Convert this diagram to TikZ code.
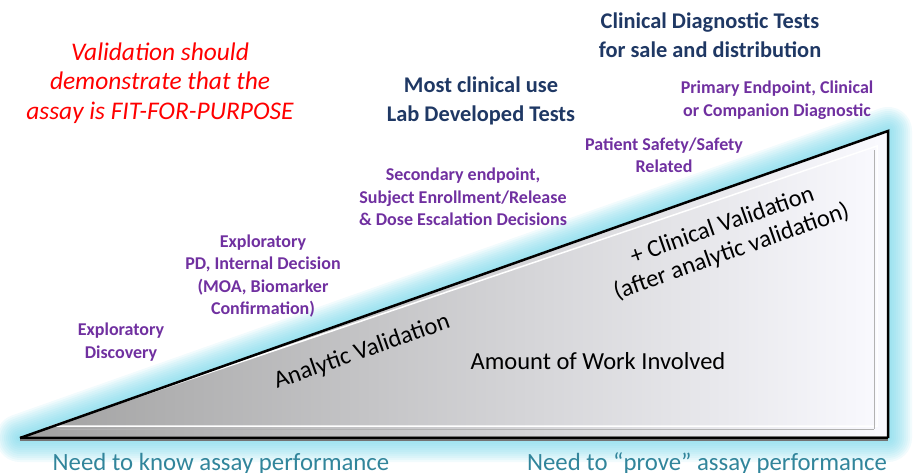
\documentclass[tikz,border=0pt]{standalone}
\usepackage{fontspec}
\setmainfont{Carlito}
\usetikzlibrary{positioning}
\definecolor{navytext}{RGB}{31,56,100}
\definecolor{purpletext}{RGB}{112,48,160}
\definecolor{tealtext}{RGB}{49,133,155}
\definecolor{glowcyan}{RGB}{110,212,232}
\tikzset{every node/.style={align=center, inner sep=0pt}, % Centered multi-line text
        heading/.style={ % Navy headings
            font=\bfseries\fontsize{22.4}{29}\selectfont,
            text=navytext},
        usecase/.style={ % Purple labels above the ramp
            font=\bfseries\fontsize{18}{22.5}\selectfont,
            text=purpletext},
        onramp/.style={ % Black text on the ramp
            font=\fontsize{24.5}{28}\selectfont,
            text=black},
        need/.style={ % Teal captions at the bottom
            font=\fontsize{24.8}{28}\selectfont,
            text=tealtext}
        }

\begin{document}
\begin{tikzpicture}[x=1pt,y=-1pt]
    \useasboundingbox (0,0) rectangle (914,472);
    \coordinate (left) at (20,438);
    \coordinate (right) at (888,438);
    \coordinate (top) at (888,131);

    % cyan glow round the ramp
    \foreach \w in {48,44,...,4}
        \draw[glowcyan, opacity=0.09, line width=\w pt, line join=round] (left) -- (top) -- (right) -- cycle;

    % the ramp
    \shade[left color=black!37, right color=blue!2!white] (left) -- (top) -- (right) -- cycle;
    \draw[white, line width=1.5pt] (52,426) -- (877,146) -- (877,426) -- cycle;
    \draw[black!30, line width=0.6pt] (60,429) -- (874,429);
    \draw[black!30, line width=0.6pt] (874,150) -- (874,429);
    \draw[black!55, line width=5pt] (left) -- (right);
    \draw[black, line width=2.5pt, line join=miter] (left) -- (top) -- (right);
    \draw[black, line width=2pt] (left) -- (right);

    % texts
    \node[font=\itshape\fontsize{25.4}{29.5}\selectfont, text=red] (purpose) at (160,83)
        {Validation should\\demonstrate that the\\assay is FIT-FOR-PURPOSE};
    \node[heading] (ivd) at (710,35) {Clinical Diagnostic Tests\\for sale and distribution};
    \node[heading] (ldt) at (481,101) {Most clinical use\\Lab Developed Tests};

    \node[usecase] (primary) at (777,100) {Primary Endpoint, Clinical\\or Companion Diagnostic};
    \node[usecase] (safety) at (664,155) {Patient Safety/Safety\\Related};
    \node[usecase] (secondary) at (463,197) {Secondary endpoint,\\Subject Enrollment/Release\\\& Dose Escalation Decisions};
    \node[usecase] (pd) at (263,276) {Exploratory\\PD, Internal Decision\\(MOA, Biomarker\\Confirmation)};
    \node[usecase] (discovery) at (121,342) {Exploratory\\Discovery};

    \node[onramp, rotate=19.4] (analytic) at (362,352) {Analytic Validation};
    \node[onramp, rotate=19.4] (clinical) at (727,239) {+ Clinical Validation\\(after analytic validation)};
    \node[onramp] (work) at (598,361) {Amount of Work Involved};

    \node[need] (know) at (221,464) {Need to know assay performance};
    \node[need] (prove) at (707,464) {Need to “prove” assay performance};
\end{tikzpicture}
\end{document}
